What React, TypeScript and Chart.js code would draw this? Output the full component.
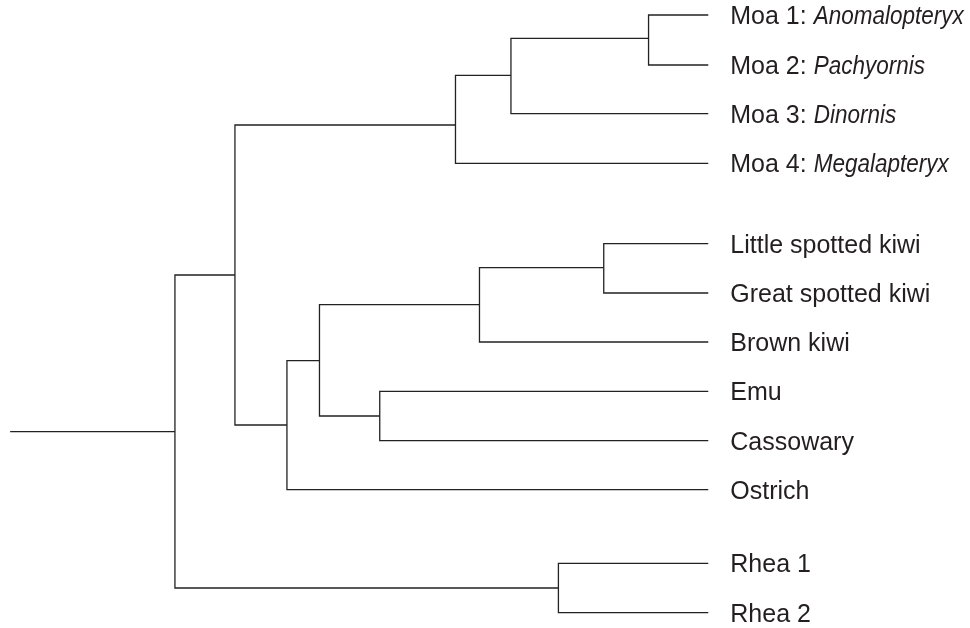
import { useEffect, useRef } from 'react';
import { Chart, registerables } from 'chart.js';

Chart.register(...registerables);

// ---- Data ----
// Leaves (tips), top to bottom
const leafLabels = [
  'Moa 1: ', 'Moa 2: ', 'Moa 3: ', 'Moa 4: ',
  'Little spotted kiwi', 'Great spotted kiwi', 'Brown kiwi',
  'Emu', 'Cassowary', 'Ostrich', 'Rhea 1', 'Rhea 2',
];
const leafGenus = [
  'Anomalopteryx', 'Pachyornis', 'Dinornis', 'Megalapteryx',
  '', '', '', '', '', '', '', '',
];
const leafRows = [0, 1.015, 2.004, 3.011, 4.644, 5.645, 6.64, 7.641, 8.644, 9.639, 11.133, 12.136];
const tipDepth = 100;

// Internal nodes
const nodeIds = ['moa12', 'moa123', 'moa', 'lsgs', 'kiwi', 'emuCas', 'kiwiEmu', 'kiwiEmuOst', 'moaRest', 'rhea', 'root'];
const nodeDepths = [88.8, 63.0, 52.6, 80.4, 57.1, 38.4, 27.1, 21.0, 11.25, 71.9, 0];
const nodeRows = [0.473, 1.224, 2.234, 5.131, 5.882, 8.142, 7.019, 8.325, 5.279, 11.635, 8.461];
const nodeChildren = [
  ['L0', 'L1'],
  ['moa12', 'L2'],
  ['moa123', 'L3'],
  ['L4', 'L5'],
  ['lsgs', 'L6'],
  ['L7', 'L8'],
  ['kiwi', 'emuCas'],
  ['kiwiEmu', 'L9'],
  ['moa', 'kiwiEmuOst'],
  ['L10', 'L11'],
  ['moaRest', 'rhea'],
];
const rootStemDepth = -30.9;

const LINE_COLOR = '#222222';
const TEXT_COLOR = '#231f20';
const FONT_SIZE = 25;
const FONT_FAMILY = '"Liberation Sans", Arial, Helvetica, sans-serif';
const ITALIC_CONDENSE = 0.9;

function resolve(ref: string) {
  if (ref.startsWith('L')) {
    const i = parseInt(ref.slice(1), 10);
    return { x: tipDepth, y: leafRows[i] };
  }
  const j = nodeIds.indexOf(ref);
  return { x: nodeDepths[j], y: nodeRows[j] };
}

function buildDatasets() {
  const sets: any[] = [];
  nodeIds.forEach((id, k) => {
    const d = nodeDepths[k];
    const [a, b] = nodeChildren[k].map(resolve);
    sets.push({
      label: id,
      data: [
        { x: a.x, y: a.y },
        { x: d, y: a.y },
        { x: d, y: b.y },
        { x: b.x, y: b.y },
      ],
    });
  });
  const rootIdx = nodeIds.indexOf('root');
  sets.push({
    label: 'stem',
    data: [
      { x: rootStemDepth, y: nodeRows[rootIdx] },
      { x: nodeDepths[rootIdx], y: nodeRows[rootIdx] },
    ],
  });
  return sets.map((s) => ({
    ...s,
    showLine: true,
    fill: false,
    tension: 0,
    pointRadius: 0,
    pointHoverRadius: 0,
    borderColor: LINE_COLOR,
    borderWidth: 1.3,
    borderJoinStyle: 'miter',
    borderCapStyle: 'butt',
  }));
}

const tipLabelsPlugin = {
  id: 'tipLabels',
  afterDatasetsDraw(chart: any) {
    const { ctx, scales } = chart;
    const xs = scales.x;
    const ys = scales.y;
    ctx.save();
    ctx.fillStyle = TEXT_COLOR;
    ctx.textBaseline = 'alphabetic';
    ctx.textAlign = 'left';
    leafLabels.forEach((lab, i) => {
      const px = xs.getPixelForValue(tipDepth) + 22;
      const py = ys.getPixelForValue(leafRows[i]) + FONT_SIZE * 0.358;
      ctx.font = `normal ${FONT_SIZE}px ${FONT_FAMILY}`;
      ctx.fillText(lab, px, py);
      if (leafGenus[i]) {
        const w = ctx.measureText(lab).width;
        ctx.save();
        ctx.translate(px + w, py);
        ctx.scale(ITALIC_CONDENSE, 1);
        ctx.font = `italic ${FONT_SIZE}px ${FONT_FAMILY}`;
        ctx.fillText(leafGenus[i], 0, 0);
        ctx.restore();
      }
    });
    ctx.restore();
  },
};

export default function App() {
  const canvasRef = useRef<HTMLCanvasElement | null>(null);

  useEffect(() => {
    if (!canvasRef.current) return;
    const chart = new Chart(canvasRef.current, {
      type: 'scatter',
      data: { datasets: buildDatasets() },
      options: {
        responsive: false,
        animation: false,
        devicePixelRatio: 1,
        layout: { padding: 0 },
        plugins: {
          legend: { display: false },
          tooltip: { enabled: false },
        },
        events: [],
        scales: {
          x: { type: 'linear', min: -32.8, max: 149.07, display: false },
          y: { type: 'linear', min: -0.3046, max: 12.447, reverse: true, display: false },
        },
      },
      plugins: [tipLabelsPlugin],
    } as any);
    return () => chart.destroy();
  }, []);

  return (
    <div style={{ position: 'fixed', left: 0, top: 0, width: 970, height: 628, background: '#ffffff' }}>
      <canvas ref={canvasRef} width={970} height={628} />
    </div>
  );
}
